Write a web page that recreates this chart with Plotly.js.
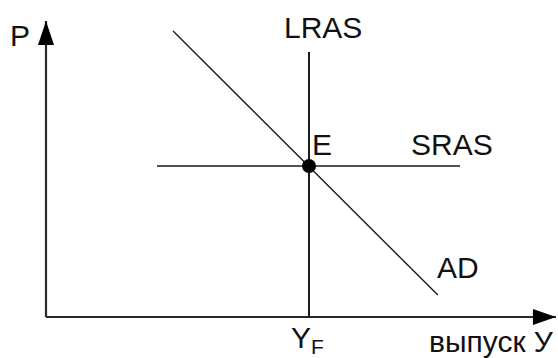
<!DOCTYPE html>
<html>
<head>
<meta charset="utf-8">
<script src="https://cdn.plot.ly/plotly-3.0.1.min.js"></script>
<style>html,body{margin:0;padding:0;background:#fff;}#chart{width:558px;height:358px;}</style>
</head>
<body>
<div id="chart"></div>
<script>
// Output (Y) and price level (P) in diagram units
const outputAxisX = [0, 19.39];
const outputAxisY = [0, 0];
const priceAxisX = [0, 0];
const priceAxisY = [0, 11.76];

const lrasX = [10, 10];
const lrasY = [0, 10.53];

const srasX = [4.22, 15.74];
const srasY = [6, 6];

const adX = [4.83, 14.9];
const adY = [11.36, 0.87];

const equilibriumX = [10];
const equilibriumY = [6];

const labelText = ["P", "LRAS", "E", "SRAS", "AD", "Y<sub>F</sub>", "выпуск У"];
const labelX = [-1.0, 10.53, 10.5, 15.44, 15.65, 9.95, 16.95];
const labelY = [11.2, 11.5, 6.85, 6.85, 1.95, -0.88, -0.98];

const font = {family: "Liberation Sans, Arial, sans-serif", size: 30, color: "#111"};
const lineColor = "#1a1a1a";

const traces = [
  {x: outputAxisX, y: outputAxisY, mode: "lines", line: {color: "#2a2a2a", width: 2.2}, hoverinfo: "skip"},
  {x: priceAxisX, y: priceAxisY, mode: "lines", line: {color: "#2a2a2a", width: 2.2}, hoverinfo: "skip"},
  {x: lrasX, y: lrasY, mode: "lines", line: {color: lineColor, width: 2}, hoverinfo: "skip"},
  {x: srasX, y: srasY, mode: "lines", line: {color: lineColor, width: 1.6}, hoverinfo: "skip"},
  {x: adX, y: adY, mode: "lines", line: {color: lineColor, width: 1.4}, hoverinfo: "skip"},
  {x: equilibriumX, y: equilibriumY, mode: "markers", marker: {color: "#000", size: 14}, hoverinfo: "skip"}
];

const annotations = labelText.map((t, i) => ({
  x: labelX[i], y: labelY[i], xref: "x", yref: "y",
  text: t, showarrow: false, font: font,
  xanchor: "center", yanchor: "middle"
}));

const shapes = [
  {type: "path", xref: "x", yref: "y", xsizemode: "pixel", ysizemode: "pixel",
   xanchor: priceAxisX[1], yanchor: priceAxisY[1],
   path: "M0,0 L-8,-24 L8,-24 Z", fillcolor: "#000", line: {width: 0}},
  {type: "path", xref: "x", yref: "y", xsizemode: "pixel", ysizemode: "pixel",
   xanchor: outputAxisX[1], yanchor: outputAxisY[1],
   path: "M0,0 L-23,8 L-23,-8 Z", fillcolor: "#000", line: {width: 0}}
];

const layout = {
  width: 558, height: 358,
  margin: {l: 0, r: 0, t: 0, b: 0},
  paper_bgcolor: "#fff", plot_bgcolor: "#fff",
  showlegend: false,
  xaxis: {range: [-1.749, 19.468], visible: false, fixedrange: true},
  yaxis: {range: [-1.629, 12.594], visible: false, fixedrange: true},
  annotations: annotations,
  shapes: shapes
};

Plotly.newPlot("chart", traces, layout, {staticPlot: true, displayModeBar: false});
</script>
</body>
</html>
